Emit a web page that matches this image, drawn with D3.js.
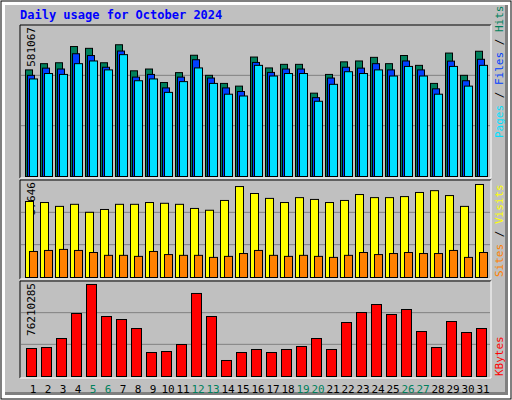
<!DOCTYPE html>
<html><head><meta charset="utf-8">
<script src="https://cdn.jsdelivr.net/npm/d3@7"></script>
<style>body{margin:0;background:#fff}svg{display:block}text{font-family:"DejaVu Sans Mono",monospace}</style>
</head><body><svg width="512" height="400"></svg>
<script>
const days = d3.range(1, 32);
const weekends = [5, 6, 12, 13, 19, 20, 26, 27];
// values
const hits = [410200,434200,437700,500100,493200,437700,507000,406700,413600,361600,399700,466600,389300,358200,347800,459700,417800,431600,431600,320700,392800,441200,444600,458500,434200,465600,427700,358200,475000,389300,482000];
const files = [389300,417000,413600,472400,465500,420400,482800,382500,392800,340900,382500,449300,378900,340900,327100,438900,400500,413600,413600,303400,378900,420400,417000,434200,410200,444600,410200,337400,444000,368500,451000];
const pages = [375400,396300,392800,434200,444600,410200,468900,368500,375400,323700,365100,417800,358200,316700,309800,427700,386700,396300,396300,289500,354700,403200,396300,410200,386700,423600,386700,316700,423600,347800,427700];
const visits = [29500,29100,27600,28400,25300,26400,28400,28400,29100,28800,28400,26800,26100,29900,35300,32600,30700,29100,31000,30300,29100,29900,32200,31000,31000,31400,33000,33700,31800,27600,36100];
const sites = [10100,10500,10900,10500,9700,8600,8600,8200,10100,8900,8600,8600,7800,8200,9300,10500,8600,8200,8600,8200,7800,8600,9700,8900,9300,9700,9300,9300,10500,7800,9700];
const kbytes = [22460000,23260000,30480000,50540000,73820000,48130000,45720000,38490000,19250000,20050000,25670000,66600000,48130000,12840000,19250000,21660000,19250000,21660000,24070000,30480000,21660000,43310000,51330000,57750000,49740000,53750000,36090000,23260000,44120000,35290000,38500000];
const maxHits = 581067, maxVisits = 37646, maxKB = 76210285;

const svg = d3.select('svg');
svg.append('rect').attr('width', 512).attr('height', 400).attr('fill', '#fff');
svg.append('rect').attr('x', 1).attr('y', 1).attr('width', 510).attr('height', 398).attr('fill', 'none').attr('stroke', '#000');
svg.append('rect').attr('x', 5).attr('y', 5).attr('width', 503).attr('height', 390).attr('fill', '#808080');
svg.append('rect').attr('x', 5).attr('y', 5).attr('width', 500).attr('height', 387).attr('fill', '#c0c0c0');

svg.append('text').attr('x', 20).attr('y', 19).attr('fill', '#0000ff')
  .attr('font-size', 12).attr('font-weight', 'bold').text('Daily usage for October 2024');

const x = d3.scaleBand().domain(days).range([22, 487]).padding(0);

function panel(top, bottom, max, label) {
  const g = svg.append('g');
  g.append('rect').attr('x', 20).attr('y', top).attr('width', 471).attr('height', bottom - top + 2).attr('fill', '#c0c0c0');
  g.append('path').attr('d', `M20,${bottom + 2}V${top}H491`).attr('stroke', '#000').attr('fill', 'none');
  g.append('path').attr('d', `M491,${top}V${bottom + 2}H20`).attr('stroke', '#fff').attr('fill', 'none');
  const y = d3.scaleLinear().domain([0, max]).range([bottom, top]);
  [1 / 3, 2 / 3].forEach(f => {
    g.append('line').attr('x1', 21).attr('x2', 490).attr('y1', y(max * f)).attr('y2', y(max * f))
      .attr('stroke', '#808080');
  });
  g.append('text').attr('transform', `translate(35,${top + 2}) rotate(-90)`).attr('text-anchor', 'end')
    .attr('font-size', 11).attr('fill', '#000').text(label);
  return { g, y };
}

function bars(p, data, off, w, color) {
  p.g.selectAll(null).data(data).enter().append('rect')
    .attr('x', (d, i) => x(days[i]) + off + 0.5)
    .attr('y', d => p.y(d) + 0.5)
    .attr('width', w)
    .attr('height', d => p.y(0) - p.y(d))
    .attr('fill', color).attr('stroke', '#000');
}

const p1 = panel(25, 176, maxHits, '581067');
bars(p1, hits, 3, 7, '#00805c');
bars(p1, files, 5, 7, '#0040ff');
bars(p1, pages, 7, 8, '#00e0ff');

const p2 = panel(180, 277, maxVisits, '37646');
bars(p2, visits, 3, 8, '#ffff00');
bars(p2, sites, 7, 8, '#ff8000');

const p3 = panel(281, 376, maxKB, '76210285');
bars(p3, kbytes, 4, 10, '#ff0000');

svg.selectAll('.day').data(days).enter().append('text')
  .attr('x', d => x(d) + 11).attr('y', 393).attr('text-anchor', 'middle').attr('font-size', 11)
  .attr('fill', d => weekends.includes(d) ? '#00805c' : '#000').text(d => d);

function sideLabel(yEnd, parts) {
  const t = svg.append('text').attr('transform', `translate(503,${yEnd}) rotate(-90)`).attr('font-size', 11);
  parts.forEach(([s, c]) => t.append('tspan').attr('fill', c).text(s));
}
sideLabel(138, [['Pages', '#00e0ff'], [' / ', '#000'], ['Files', '#0040ff'], [' / ', '#000'], ['Hits', '#00805c']]);
sideLabel(277, [['Sites', '#ff8000'], [' / ', '#000'], ['Visits', '#ffff00']]);
sideLabel(376, [['KBytes', '#ff0000']]);
</script></body></html>
